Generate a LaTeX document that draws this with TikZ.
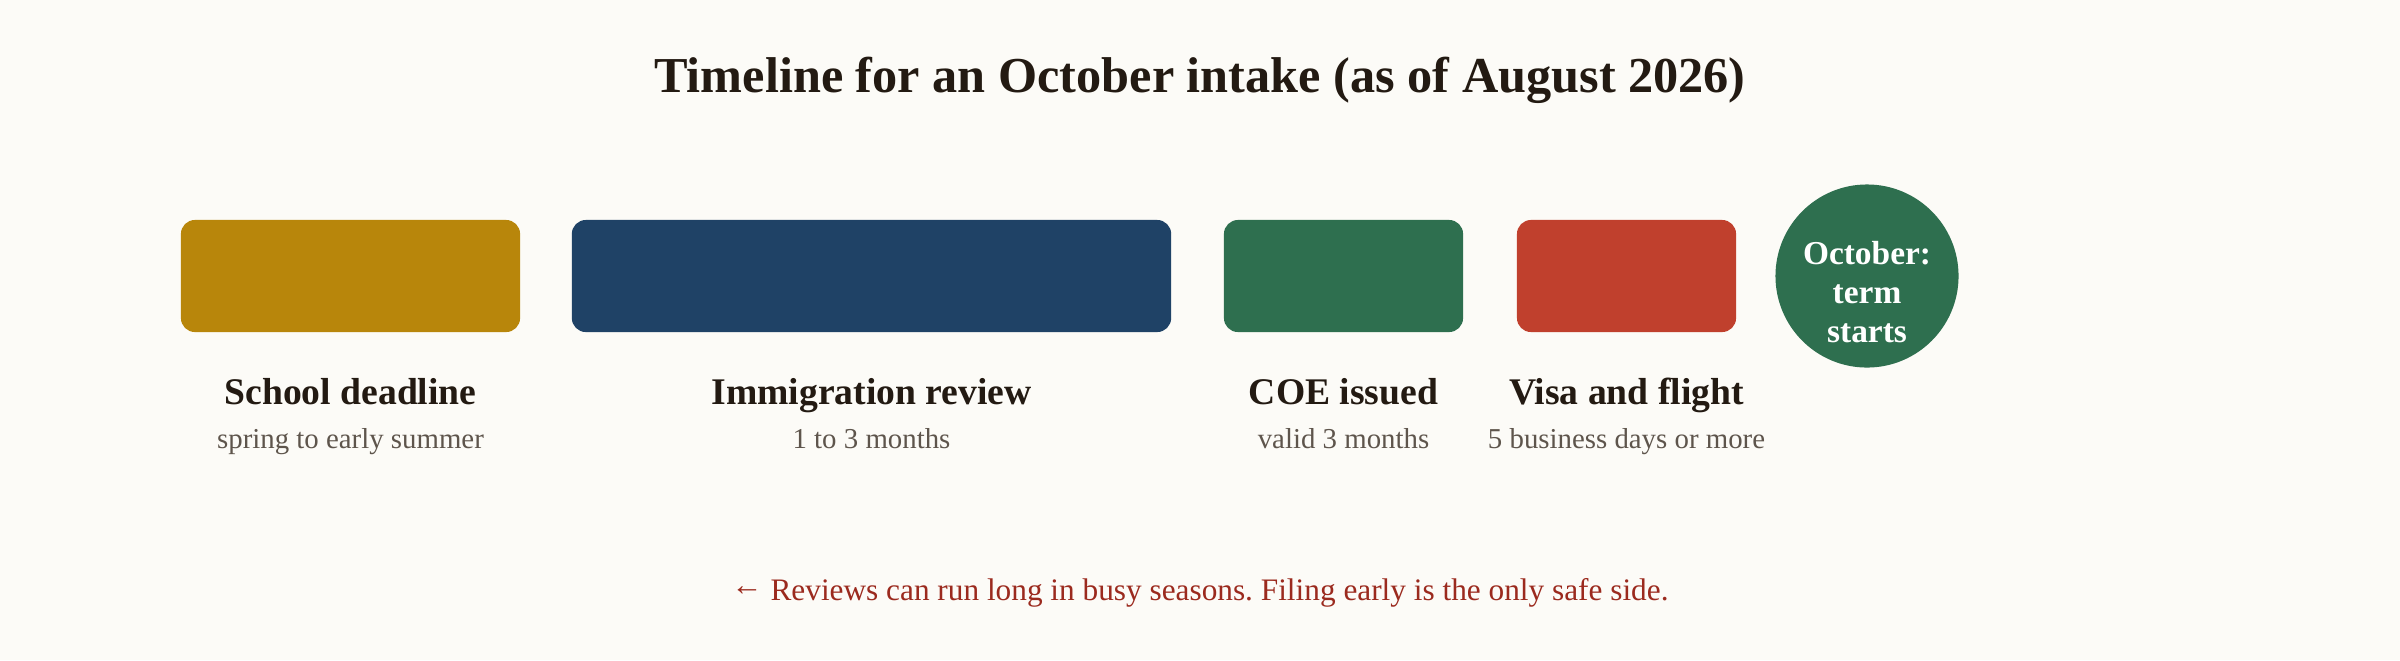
\documentclass[tikz,border=0pt]{standalone}
\usepackage{fontspec}
\setmainfont{Liberation Serif}
\definecolor{bgcream}{HTML}{FCFBF7}
\definecolor{inkdark}{HTML}{231A12}
\definecolor{inkgrey}{HTML}{5E554C}
\definecolor{inkred}{HTML}{9B2A1E}
\definecolor{gold}{HTML}{B8860B}
\definecolor{navy}{HTML}{1F4266}
\definecolor{pine}{HTML}{2E6F4F}
\definecolor{brick}{HTML}{C0402D}
\tikzset{
  phase/.style={rounded corners=0.14cm, minimum height=1.12cm, inner sep=0pt},
  lbl/.style={anchor=base, text=inkdark, font=\fontsize{10.7}{12}\selectfont\bfseries},
  sub/.style={anchor=base, text=inkgrey, font=\fontsize{8.2}{10}\selectfont},
}
\begin{document}
\frenchspacing
\begin{tikzpicture}[x=0.01cm,y=-0.01cm]
\fill[bgcream] (0,0) rectangle (2400,660);
\useasboundingbox (0,0) rectangle (2400,660);
\node[anchor=base, text=inkdark, font=\fontsize{14.3}{16}\selectfont\bfseries] (title) at (1200,92) {Timeline for an October intake (as of August 2026)};
% phases
\node[phase, fill=gold, minimum width=3.39cm] (school) at (350.5,276) {};
\node[phase, fill=navy, minimum width=5.99cm] (review) at (871.5,276) {};
\node[phase, fill=pine, minimum width=2.39cm] (coe) at (1343.5,276) {};
\node[phase, fill=brick, minimum width=2.19cm] (visa) at (1626.5,276) {};
\node[circle, fill=pine, minimum size=1.83cm, inner sep=0pt] (term) at (1867,276) {};
\node[text=white, align=center, font=\fontsize{9.5}{11}\selectfont\bfseries] (termTxt) at ([yshift=-0.16cm]term.center) {October:\\term\\starts};
% labels
\node[lbl] (schoolLbl) at (350.5,404) {School deadline};
\node[sub] (schoolSub) at (350.5,448) {spring to early summer};
\node[lbl] (reviewLbl) at (871.5,404) {Immigration review};
\node[sub] (reviewSub) at (871.5,448) {1 to 3 months};
\node[lbl] (coeLbl) at (1343.5,404) {COE issued};
\node[sub] (coeSub) at (1343.5,448) {valid 3 months};
\node[lbl] (visaLbl) at (1626.5,404) {Visa and flight};
\node[sub] (visaSub) at (1626.5,448) {5 business days or more};
% note
\node[anchor=base, text=inkred, font=\fontsize{8.9}{11}\selectfont] (note) at (1200,600) {\raisebox{1.2pt}{←} Reviews can run long in busy seasons. Filing early is the only safe side.};
\end{tikzpicture}
\end{document}
